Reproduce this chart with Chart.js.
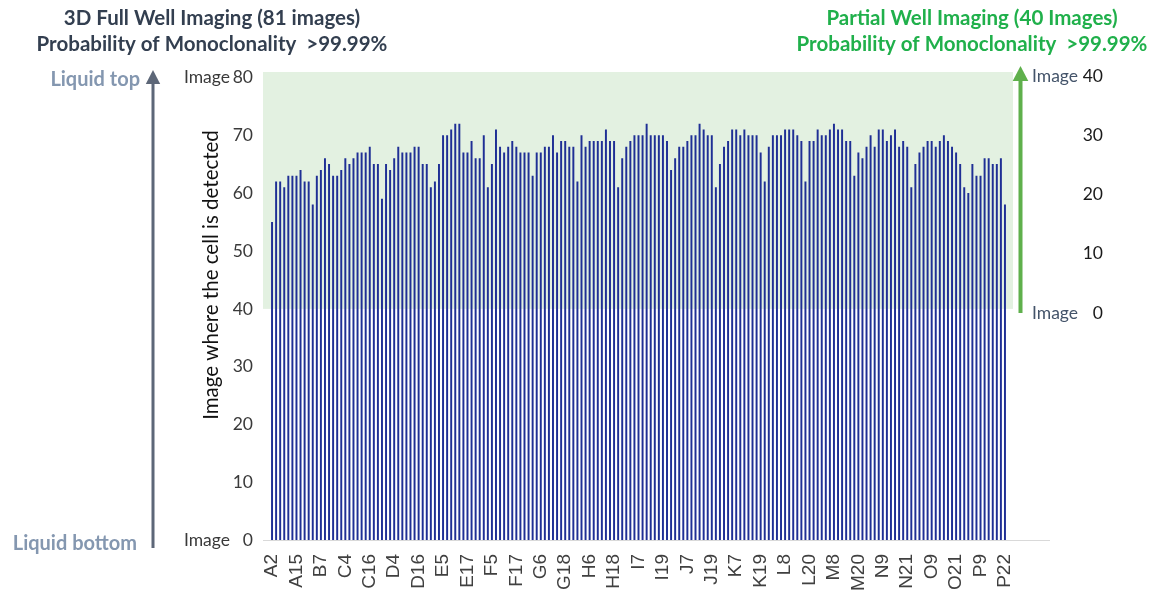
<!DOCTYPE html>
<html>
<head>
<meta charset="utf-8">
<script src="https://cdn.jsdelivr.net/npm/chart.js@4.4.1/dist/chart.umd.min.js"></script>
<style>
    html, body { margin: 0; padding: 0; background: #fff; }
    #wrap { position: relative; width: 1156px; height: 592px; }
</style>
</head>
<body>
<div id="wrap"><canvas id="chart" width="1156" height="592"></canvas></div>
<script>
// well labels shown under every 6th bar
const tickLabels = [
    'A2', 'A15', 'B7', 'C4', 'C16', 'D4', 'D16', 'E5', 'E17', 'F5', 'F17',
    'G6', 'G18', 'H6', 'H18', 'I7', 'I19', 'J7', 'J19', 'K7', 'K19', 'L8',
    'L20', 'M8', 'M20', 'N9', 'N21', 'O9', 'O21', 'P9', 'P22',
];

// image number (of 81) where the single cell was detected, one per well
const detectedImage = [
    55, 62, 62, 61, 63, 63, 63, 64, 62, 62, 58, 63, 64, 66, 65, 63, 63, 64, 66, 65,
    66, 67, 67, 67, 68, 65, 65, 59, 65, 64, 66, 68, 67, 67, 67, 68, 68, 65, 65, 61,
    62, 65, 70, 70, 71, 72, 72,
    67, 67, 69, 66, 66, 70, 61, 65, 71, 68, 67, 68, 69, 68, 67, 67, 67, 63, 67, 67,
    68, 68, 70, 67, 69, 69, 68, 68, 62, 70, 68, 69, 69, 69, 69, 71, 69, 69, 61, 66,
    68, 69, 70, 70, 70, 72,
    70, 70, 70, 70, 69, 64, 66, 68, 68, 69, 70, 70, 72, 71, 70, 70, 61, 65, 68, 69,
    71, 71, 70, 71, 70, 70, 70, 67, 62, 68, 70, 70, 70, 71, 71, 71, 70, 69, 62, 69,
    69, 71, 70, 70, 71,
    72, 71, 71, 69, 69, 63, 67, 66, 68, 70, 68, 71, 71, 69, 70, 71, 68, 69, 68, 61,
    65, 67, 68, 69, 69, 68, 69, 70, 69, 68, 67, 65, 61, 60, 65, 63, 63, 66, 66, 65,
    65, 66, 58,
];

const leftTicks = [0, 10, 20, 30, 40, 50, 60, 70, 80];
const rightTicks = [0, 10, 20, 30, 40];

const categories = detectedImage.map((v, i) => (i % 6 === 0 ? tickLabels[i / 6] : ''));

const drawArrow = (ctx, x, yFrom, yTo, width, head, color) => {
    ctx.save();
    ctx.strokeStyle = color;
    ctx.fillStyle = color;
    ctx.lineWidth = width;
    ctx.beginPath();
    ctx.moveTo(x, yFrom);
    ctx.lineTo(x, yTo + head);
    ctx.stroke();
    ctx.beginPath();
    ctx.moveTo(x, yTo);
    ctx.lineTo(x - head * 0.6, yTo + head + 2);
    ctx.lineTo(x + head * 0.6, yTo + head + 2);
    ctx.closePath();
    ctx.fill();
    ctx.restore();
};

const decor = {
    id: 'decor',
    beforeDatasetsDraw(chart) {
        const { ctx, chartArea, scales } = chart;
        const top = scales.y.getPixelForValue(81);
        const bottom = scales.y.getPixelForValue(40);
        ctx.save();
        ctx.fillStyle = '#e3f1e1';
        ctx.fillRect(chartArea.left - 7, top, chartArea.right - chartArea.left + 13, bottom - top);
        ctx.strokeStyle = '#d9d9d9';
        ctx.lineWidth = 1;
        ctx.beginPath();
        ctx.moveTo(chartArea.left - 7, chartArea.bottom + 0.5);
        ctx.lineTo(chartArea.right + 43, chartArea.bottom + 0.5);
        ctx.stroke();
        ctx.restore();
    },
    afterDraw(chart) {
        const { ctx, scales } = chart;
        ctx.save();
        ctx.textBaseline = 'middle';

        // titles
        ctx.font = 'bold 20.5px Lato';
        ctx.textAlign = 'center';
        ctx.fillStyle = '#333f50';
        ctx.fillText('3D Full Well Imaging (81 images)', 212, 18);
        ctx.fillText('Probability of Monoclonality  >99.99%', 212, 44);
        ctx.fillStyle = '#20b04b';
        ctx.fillText('Partial Well Imaging (40 Images)', 972, 18);
        ctx.fillText('Probability of Monoclonality  >99.99%', 972, 44);

        // liquid labels + grey arrow
        ctx.font = 'bold 20px Lato';
        ctx.textAlign = 'right';
        ctx.fillStyle = '#8497b0';
        ctx.fillText('Liquid top', 140, 80);
        ctx.fillText('Liquid bottom', 137, 544);
        drawArrow(ctx, 153, 548, 70, 3, 12, '#5d6778');

        // left axis labels
        ctx.font = '17.5px Lato';
        ctx.fillStyle = '#3a3a3a';
        leftTicks.forEach((v) => {
            const y = scales.y.getPixelForValue(v);
            ctx.textAlign = 'right';
            ctx.fillText(String(v), 253, y);
            if (v === 0 || v === 80) {
                ctx.fillText('Image', 230, y);
            }
        });

        // right axis labels + green arrow
        rightTicks.forEach((v) => {
            const y = scales.y2.getPixelForValue(v);
            ctx.textAlign = 'right';
            ctx.fillStyle = '#1a1a1a';
            ctx.fillText(String(v), 1103, y);
            if (v === 0 || v === 40) {
                ctx.textAlign = 'left';
                ctx.fillStyle = '#44546a';
                ctx.fillText('Image', 1032, y);
            }
        });
        drawArrow(ctx, 1020.5, scales.y2.getPixelForValue(0), 66, 4, 13, '#5fb04c');

        // axis title
        ctx.translate(211, 275);
        ctx.rotate(-Math.PI / 2);
        ctx.textAlign = 'center';
        ctx.font = '20.5px Lato';
        ctx.fillStyle = '#111';
        ctx.fillText('Image where the cell is detected', 0, 0);
        ctx.restore();
    },
};

new Chart(document.getElementById('chart'), {
    type: 'bar',
    data: {
        labels: categories,
        datasets: [
            {
                data: detectedImage,
                backgroundColor: '#1f2f95',
                borderWidth: 0,
                barThickness: 1.3,
                yAxisID: 'y',
            },
        ],
    },
    options: {
        responsive: false,
        animation: false,
        devicePixelRatio: 1,
        layout: {
            padding: { left: 270, right: 149, top: 72, bottom: 0 },
        },
        plugins: {
            legend: { display: false },
            tooltip: { enabled: false },
        },
        scales: {
            x: {
                offset: true,
                grid: { display: false },
                border: { display: false },
                ticks: {
                    autoSkip: false,
                    minRotation: 90,
                    maxRotation: 90,
                    padding: 6,
                    color: '#404040',
                    font: { family: 'Liberation Sans', size: 19 },
                    callback: (value, index) => categories[index],
                },
                afterFit: (scale) => {
                    scale.height = 52;
                },
            },
            y: {
                display: false,
                min: 0,
                max: 81,
            },
            y2: {
                display: false,
                position: 'right',
                min: -38.31,
                max: 40.675,
            },
        },
    },
    plugins: [decor],
});
</script>
</body>
</html>
